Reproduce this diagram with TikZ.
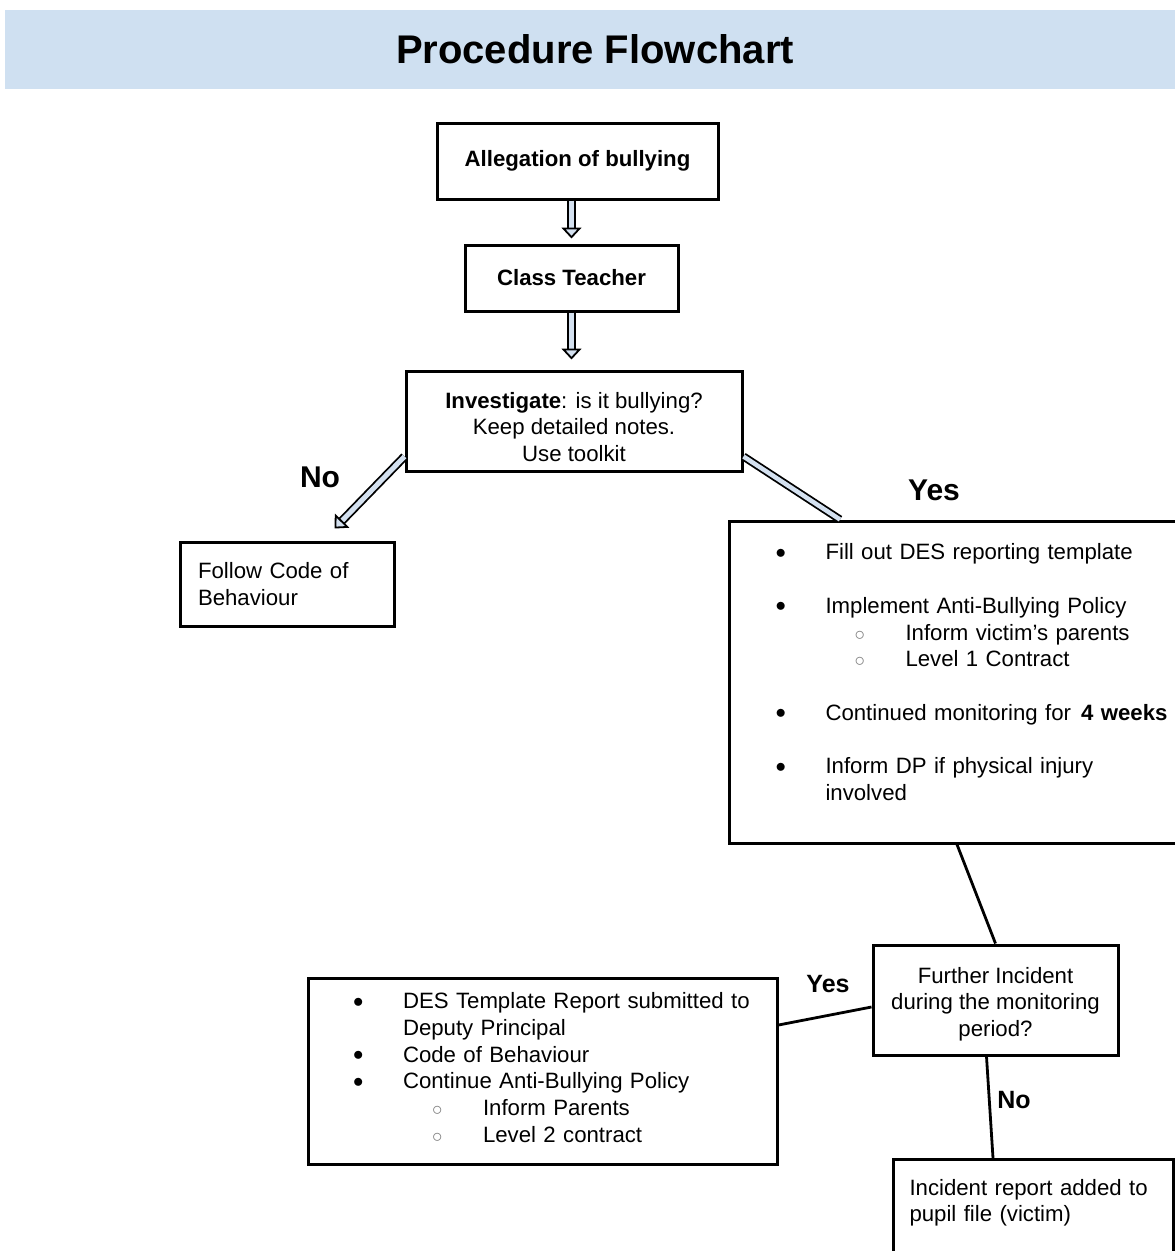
\documentclass[tikz,border=0pt]{standalone}
\usepackage{fontspec}
\setmainfont{Liberation Sans}
\usepackage{tikz}
\usetikzlibrary{arrows.meta,calc}
\definecolor{bannerblue}{RGB}{207,224,241}
\definecolor{arrowblue}{RGB}{212,225,240}
\newcommand{\mainsize}{\fontsize{22.2}{26.7}\selectfont}
\newcommand{\bul}[1]{\mbox{\makebox[50pt][l]{\raisebox{0.06em}{$\bullet$}}#1}}
\newcommand{\subbul}[1]{\mbox{\hspace*{79pt}\makebox[51pt][l]{\textcolor{gray}{$\circ$}}#1}}

\begin{document}
\begin{tikzpicture}[x=1pt, y=-1pt,
    box/.style={draw=black, line width=3pt, inner sep=0pt, font=\mainsize},
    boldbox/.style={box, font=\mainsize\bfseries},
    answer/.style={font=\fontsize{30}{36}\selectfont\bfseries},
    hollow/.style={double=arrowblue, double distance=5pt, line width=1.8pt,
      -{Triangle[width=20pt, length=11pt, fill=arrowblue]}},
    hollowline/.style={double=arrowblue, double distance=4.5pt, line width=1.8pt},
    link/.style={line width=2.8pt}]
    \path[use as bounding box, clip] (0,0) rectangle (1175,1251);
    \fill[white] (0,0) rectangle (1175,1251);
    % Banner
    \node[fill=bannerblue, minimum width=1180pt, minimum height=79pt, inner sep=0pt,
      font=\fontsize{40}{48}\selectfont\bfseries] (title) at (595,49.5) {Procedure Flowchart};
    % First steps
    \node[boldbox, minimum width=281pt, minimum height=76pt] (alleg) at (577.5,161) {Allegation of bullying};
    \node[boldbox, minimum width=213pt, minimum height=66pt] (teacher) at (571.5,278) {Class Teacher};
    \node[box, minimum width=336pt, minimum height=100pt, align=center] (invest) at (574,421)
      {\rule{0pt}{28pt}\textbf{Investigate}: is it bullying?\\Keep detailed notes.\\Use toolkit};
    % Outcomes
    \node[box, minimum width=214pt, minimum height=84pt, text width=178pt, align=left] (follow) at (287,584)
      {Follow Code of\\Behaviour};
    \node[box, anchor=west, minimum height=322pt, text width=420pt, inner xsep=46pt, align=left] (steps) at (728,682)
      {\bul{Fill out DES reporting template}\\[26.7pt]
       \bul{Implement Anti-Bullying Policy}\\
       \subbul{Inform victim's parents}\\
       \subbul{Level 1 Contract}\\[26.7pt]
       \bul{Continued monitoring for\hspace{0.45em}\textbf{4 weeks}}\\[26.7pt]
       \bul{Inform DP if physical injury}\\
       \hspace*{50pt}involved\rule[-20pt]{0pt}{20pt}};
    \node[box, minimum width=245pt, minimum height=110pt, align=center] (further) at (995.5,1000)
      {\rule{0pt}{24pt}Further Incident\\during the monitoring\\period?};
    \node[box, minimum width=469pt, minimum height=186pt, text width=379pt, align=left] (des) at (542.5,1071)
      {\bul{DES Template Report submitted to}\\
       \hspace*{50pt}Deputy Principal\\
       \bul{Code of Behaviour}\\
       \bul{Continue Anti-Bullying Policy}\\
       \subbul{Inform Parents}\\
       \subbul{Level 2 contract}\rule[-7pt]{0pt}{7pt}};
    \node[box, anchor=north west, minimum width=280pt, minimum height=132pt, text width=248pt, align=left] (incident) at (892,1158)
      {Incident report added to\\pupil file (victim)\rule[-50pt]{0pt}{50pt}};
    % Answers
    \node[answer] (no1) at (320,477) {No};
    \node[answer] (yes1) at (934,490) {Yes};
    \node[answer, font=\fontsize{25}{30}\selectfont\bfseries] (yes2) at (828,984) {Yes};
    \node[answer, font=\fontsize{25}{30}\selectfont\bfseries] (no2) at (1014,1100) {No};
    % Arrows
    \draw[hollow, shorten >=5pt] (alleg.south -| teacher.north) -- (teacher.north);
    \draw[hollow, shorten >=10pt] (teacher.south) -- (teacher.south |- invest.north);
    \draw[hollow] ($(invest.south west)+(0,-16)$) -- ($(follow.north east)+(-61,-12)$);
    \draw[hollowline] ($(invest.south east)+(0,-16)$) -- ($(steps.north west)+(112,0)$);
    \draw[link] ($(steps.south west)+(229,0)$) -- (further.north);
    \draw[link] ($(further.west)+(0,7)$) -- ($(des.east)+(0,-46)$);
    \draw[link] ($(further.south)+(-9,0)$) -- ($(incident.north west)+(101,0)$);
  \end{tikzpicture}
\end{document}
